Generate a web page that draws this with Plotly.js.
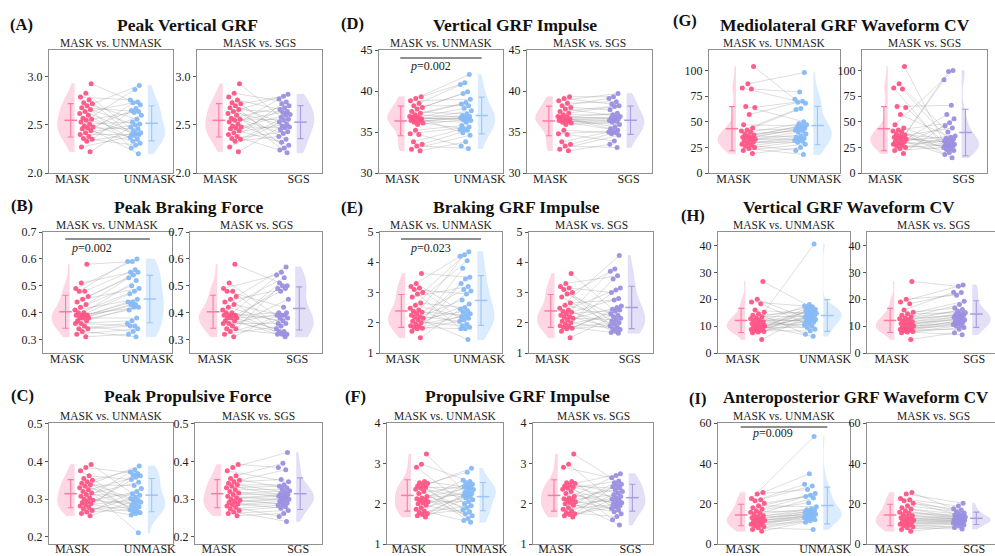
<!DOCTYPE html>
<html><head><meta charset="utf-8">
<script src="https://cdn.plot.ly/plotly-3.0.1.min.js"></script>
<style>html,body{margin:0;padding:0;background:#fff}#chart{width:995px;height:556px}</style>
</head><body><div id="chart"></div>
<script>
// ---------------- DATA ----------------
const letters = ['(A)','(B)','(C)','(D)','(E)','(F)','(G)','(H)','(I)'];
const titles = ['Peak Vertical GRF','Peak Braking Force','Peak Propulsive Force',
  'Vertical GRF Impulse','Braking GRF Impulse','Propulsive GRF Impulse',
  'Mediolateral GRF Waveform CV','Vertical GRF Waveform CV','Anteroposterior GRF Waveform CV'];
const subTitles = ['MASK vs. UNMASK','MASK vs. SGS'];
const groupNames = ['MASK','UNMASK','SGS'];
const yTickVals = [[2.0,2.5,3.0],[0.3,0.4,0.5,0.6,0.7],[0.2,0.3,0.4,0.5],[30,35,40,45],[1,2,3,4,5],[1,2,3,4],[0,25,50,75,100],[0,10,20,30,40],[0,20,40,60]];
const yTickText = [['2.0','2.5','3.0'],['0.3','0.4','0.5','0.6','0.7'],['0.2','0.3','0.4','0.5'],['30','35','40','45'],['1','2','3','4','5'],['1','2','3','4'],['0','25','50','75','100'],['0','10','20','30','40'],['0','20','40','60']];
const pValues = [null,'0.002',null,'0.002','0.023',null,null,null,'0.009'];

const maskA   = [2.93,2.83,2.79,2.76,2.73,2.72,2.70,2.68,2.66,2.64,2.62,2.60,2.57,2.56,2.55,2.53,2.51,2.49,2.48,2.47,2.46,2.44,2.42,2.40,2.38,2.36,2.35,2.33,2.27,2.22];
const unmaskA = [2.91,2.87,2.76,2.74,2.73,2.71,2.67,2.65,2.64,2.63,2.60,2.56,2.53,2.51,2.50,2.48,2.46,2.44,2.42,2.41,2.40,2.40,2.39,2.37,2.35,2.33,2.31,2.29,2.26,2.20];
const sgsA    = [2.82,2.80,2.77,2.74,2.72,2.70,2.68,2.66,2.64,2.63,2.61,2.60,2.58,2.56,2.55,2.53,2.51,2.49,2.48,2.47,2.45,2.43,2.41,2.38,2.35,2.32,2.29,2.26,2.24,2.21];

const maskB   = [0.58,0.51,0.49,0.48,0.48,0.46,0.45,0.44,0.43,0.42,0.41,0.40,0.40,0.39,0.39,0.39,0.39,0.38,0.38,0.38,0.37,0.37,0.36,0.36,0.35,0.34,0.34,0.33,0.32,0.31];
const unmaskB = [0.60,0.59,0.59,0.56,0.55,0.55,0.54,0.53,0.52,0.50,0.49,0.48,0.47,0.45,0.44,0.44,0.43,0.43,0.42,0.42,0.41,0.38,0.37,0.36,0.35,0.35,0.34,0.33,0.32,0.31];
const sgsB    = [0.57,0.55,0.54,0.53,0.51,0.50,0.50,0.49,0.49,0.48,0.45,0.42,0.40,0.40,0.39,0.39,0.39,0.38,0.38,0.37,0.36,0.36,0.35,0.34,0.33,0.33,0.32,0.32,0.32,0.31];

const maskC   = [0.392,0.384,0.375,0.362,0.355,0.350,0.346,0.342,0.338,0.334,0.330,0.325,0.320,0.316,0.312,0.308,0.304,0.300,0.297,0.294,0.291,0.288,0.285,0.282,0.278,0.274,0.270,0.266,0.262,0.256];
const unmaskC = [0.388,0.378,0.372,0.368,0.365,0.362,0.358,0.352,0.345,0.336,0.328,0.320,0.314,0.310,0.306,0.302,0.298,0.295,0.292,0.288,0.284,0.280,0.276,0.272,0.268,0.266,0.264,0.262,0.258,0.211];
const sgsC    = [0.424,0.395,0.384,0.378,0.352,0.346,0.338,0.334,0.330,0.326,0.322,0.318,0.314,0.312,0.310,0.308,0.305,0.302,0.300,0.297,0.294,0.290,0.287,0.284,0.280,0.276,0.270,0.262,0.254,0.241];

const maskD   = [39.3,39.1,38.8,38.5,38.2,38.0,37.8,37.5,37.3,37.1,36.9,36.8,36.7,36.6,36.5,36.4,36.3,36.2,36.1,35.9,36.8,36.6,35.2,34.8,34.7,33.8,33.5,33.3,32.9,32.7];
const unmaskD = [42.0,41.0,40.8,39.9,39.7,39.0,38.6,38.4,38.2,37.9,37.6,37.2,37.0,36.9,36.8,36.7,36.6,36.5,36.4,36.2,35.8,35.6,35.4,35.3,35.2,34.9,34.6,33.8,33.3,33.0];
const sgsD    = [39.7,39.3,39.1,38.7,38.4,38.2,38.1,37.7,37.3,37.1,36.9,36.8,36.7,36.6,36.5,36.4,36.3,36.2,35.9,35.6,35.4,35.2,35.1,35.0,34.9,34.8,34.6,33.9,33.5,33.1];

const maskE   = [3.63,3.30,3.20,3.15,3.10,3.00,2.95,2.85,2.65,2.58,2.48,2.42,2.38,2.35,2.30,2.25,2.20,2.18,2.15,2.10,2.05,2.00,1.95,1.90,1.88,1.85,1.82,1.80,1.72,1.50];
const unmaskE = [4.35,4.25,4.20,4.05,3.80,3.50,3.45,3.30,3.20,3.10,3.05,2.95,2.75,2.62,2.50,2.45,2.40,2.35,2.30,2.25,2.20,2.15,2.10,2.05,1.95,1.90,1.85,1.80,1.80,1.45];
const sgsE    = [4.22,3.78,3.70,3.55,3.45,3.15,3.08,3.00,2.80,2.75,2.55,2.50,2.45,2.42,2.38,2.30,2.25,2.20,2.15,2.10,2.05,2.00,1.95,1.90,1.85,1.80,1.78,1.72,1.68,1.65];

const maskF   = [3.23,2.98,2.90,2.55,2.52,2.50,2.46,2.44,2.41,2.38,2.36,2.30,2.25,2.18,2.14,2.12,2.10,2.08,2.05,2.02,2.00,1.96,1.90,1.86,1.82,1.78,1.75,1.73,1.70,1.67];
const unmaskF = [2.88,2.78,2.58,2.55,2.52,2.48,2.45,2.42,2.40,2.38,2.35,2.32,2.28,2.25,2.22,2.20,2.17,2.14,2.10,2.05,2.00,1.95,1.90,1.85,1.80,1.75,1.70,1.63,1.58,1.54];
const sgsF    = [2.74,2.70,2.64,2.56,2.52,2.48,2.45,2.42,2.38,2.34,2.30,2.26,2.22,2.18,2.14,2.11,2.08,2.05,2.02,2.00,1.98,1.95,1.92,1.88,1.84,1.80,1.75,1.68,1.60,1.47];

const maskG   = [104,87,83,82,65,64,57,47,44,42,41,40,38,37,36,35,35,34,33,32,31,30,29,28,27,26,25,24,22,19];
const unmaskG = [98,79,72,70,69,68,63,62,50,48,47,46,45,44,43,42,41,40,38,36,35,34,33,32,31,30,28,25,22,18];
const sgsG    = [100,99,91,66,57,53,49,46,44,40,36,35,34,33,32,31,30,29,28,27,27,26,26,25,24,23,22,20,18,15];

const maskH   = [26.6,20.0,19.0,18.3,16.0,15.2,14.6,14.0,13.5,13.0,12.7,12.3,12.0,11.6,11.3,11.0,10.6,10.3,10.0,9.8,9.5,9.2,9.0,8.7,8.5,8.3,8.0,7.8,7.5,5.0];
const unmaskH = [40.5,18.0,17.5,17.2,16.8,16.3,16.0,15.7,15.4,15.1,14.8,14.5,14.2,14.0,13.7,13.4,13.1,12.8,12.5,12.2,11.8,11.5,11.0,10.5,10.0,9.5,8.8,8.2,7.0,6.2];
const sgsH    = [25.3,24.8,22.6,22.5,21.5,19.2,18.0,16.7,16.2,15.6,15.0,14.6,14.3,14.0,13.6,13.3,13.0,12.7,12.4,12.0,11.6,11.3,11.0,10.6,10.3,10.0,9.5,8.8,7.5,6.8];

const maskI   = [25.5,24.8,22.6,22.0,21.5,20.2,19.0,18.0,17.3,16.5,15.8,15.2,14.6,14.0,13.5,13.0,12.6,12.2,11.8,11.4,11.0,10.6,10.2,9.8,9.4,9.0,8.5,8.0,7.2,6.3];
const unmaskI = [53.3,34.8,29.6,28.8,27.0,25.0,24.2,23.5,22.8,20.5,18.5,17.5,17.0,16.6,16.2,15.8,15.5,15.2,14.8,14.5,14.2,13.9,13.6,13.2,12.8,12.4,12.0,11.5,10.8,7.2];
const sgsI    = [20.2,18.8,17.5,16.8,16.0,15.4,14.8,14.4,14.0,13.7,13.4,13.1,12.8,12.6,12.4,12.2,12.0,11.8,11.6,11.4,11.2,11.0,10.7,10.4,10.1,9.8,9.4,8.9,8.2,7.4];

// subject pairing: MASK subject i is paired with comparison value index pair[i]
const pairP1 = [5,17,2,24,11,0,28,8,14,21,3,26,19,9,1,23,12,29,6,16,25,4,13,20,10,27,7,18,22,15];
const pairP2 = [2,0,5,1,8,3,4,11,6,14,7,9,16,10,12,19,13,15,22,17,18,25,20,21,28,23,24,29,26,27];
const pairP3 = [12,3,20,7,27,1,15,24,9,18,0,29,5,22,13,8,26,2,19,11,25,6,16,28,4,21,10,23,14,17];
const pairP4 = [1,4,0,3,2,7,10,5,6,9,13,8,11,15,12,18,14,16,21,17,20,19,24,22,27,23,25,29,26,28];
const pairP5 = [20,9,27,14,3,22,11,0,17,25,6,29,13,2,19,8,24,16,4,28,10,21,1,15,26,7,18,12,23,5];

const maskData = [maskA,maskB,maskC,maskD,maskE,maskF,maskG,maskH,maskI];
const unmaskData = [unmaskA,unmaskB,unmaskC,unmaskD,unmaskE,unmaskF,unmaskG,unmaskH,unmaskI];
const sgsData = [sgsA,sgsB,sgsC,sgsD,sgsE,sgsF,sgsG,sgsH,sgsI];
const pairUnmask = [pairP1,pairP4,pairP3,pairP2,pairP1,pairP3,pairP2,pairP1,pairP4];
const pairSgs    = [pairP3,pairP1,pairP2,pairP4,pairP3,pairP1,pairP5,pairP4,pairP2];

// ---------------- LAYOUT GEOMETRY (pixels) ----------------
const W = 995, H = 556;
const yRanges = [[2.0,3.28],[0.25,0.7],[0.181,0.502],[30,45],[1,5],[1,4],[0,120],[0,45],[0,60]];
const frameX = [[49,173,197,322],[43,172,190,322],[49,173,195,322],
                [379,503,527,652],[380,502,529,653],[387,503,533,653],
                [709,840,862,987],[718,850,867,999],[718,850,867,999]];
const frameY = [[50,173],[232,353],[423,544]];
const letterPos = [[21,25],[22,206],[22,395],[352,24],[352,207],[355,396],[685,20],[693,215],[697,398]];
const titlePos  = [[187,25],[189,207],[188,396],[515,25],[516,207],[517,396],[845,25],[849,207],[721,397]];
const titleSize = [17.5,17.5,17.5,17.5,17.5,17.5,17.5,17.5,17];
const pLineY = {1:239, 3:58, 4:239, 8:427};
const pTextY = {1:248, 3:66, 4:248, 8:433};
const pTextX = {1:0.6, 3:0.72, 4:0.72, 8:0.72};

const XR = [-0.6, 2.6];
const X_MASK_VIO = 0.06, X_MASK_ERR = -0.04, X_MASK_PTS = 0.36;
const X_OTH_VIO = 1.95, X_OTH_ERR = 2.05, X_OTH_PTS = 1.64;

const colMask = {pt:'#ff5486', fill:'rgba(255,165,192,0.45)', err:'#ff7aa0'};
const colUn   = {pt:'#85b9f7', fill:'rgba(180,215,255,0.47)', err:'#9cc6f5'};
const colSgs  = {pt:'#9a8fe0', fill:'rgba(195,188,238,0.47)', err:'#a69de2'};
const FONT = 'Liberation Serif, Times New Roman, serif';

function jitter(i, seed){ const v = ((i + seed) * 0.6180339887) % 1; return v - 0.5; }
function mean(a){ return a.reduce((s,v)=>s+v,0)/a.length; }
function sd(a){ const m = mean(a); return Math.sqrt(a.reduce((s,v)=>s+(v-m)*(v-m),0)/(a.length-1)); }

const traces = [];
const layout = {
  width: W, height: H, margin:{l:0,r:0,t:0,b:0},
  paper_bgcolor:'#fff', plot_bgcolor:'#fff', showlegend:false,
  violinmode:'overlay', font:{family:FONT, color:'#111'},
  annotations:[], shapes:[]
};

for (let p = 0; p < 9; p++) {
  const row = p % 3;
  const [yt, yb] = frameY[row];
  for (let s = 0; s < 2; s++) {
    const k = p*2 + s + 1;
    const xn = k === 1 ? 'x' : 'x'+k, yn = k === 1 ? 'y' : 'y'+k;
    const L = frameX[p][s*2], R = frameX[p][s*2+1];
    const Rc = Math.min(R, W);
    const xr1 = XR[0] + (XR[1]-XR[0])*(Rc-L)/(R-L);
    const other = s === 0 ? unmaskData[p] : sgsData[p];
    const pair = s === 0 ? pairUnmask[p] : pairSgs[p];
    const col = s === 0 ? colUn : colSgs;
    const mask = maskData[p];

    layout['xaxis'+(k===1?'':k)] = {
      domain:[L/W, Rc/W], range:[XR[0], xr1], type:'linear', anchor:yn,
      tickvals:[0,2], ticktext:['MASK', groupNames[s+1]], ticks:'',
      showline:true, mirror:true, linecolor:'#8f8f8f', linewidth:1,
      showgrid:false, zeroline:false, fixedrange:true, ticklabelstandoff: row === 2 ? -6 : -5,
      tickfont:{family:FONT, size:12, color:'#1a1a1a'}
    };
    layout['yaxis'+(k===1?'':k)] = {
      domain:[1-yb/H, 1-yt/H], range:yRanges[p], anchor:xn,
      tickvals:yTickVals[p], ticktext:yTickText[p], ticks:'outside', ticklen:3, tickcolor:'#555',
      showline:true, mirror:(R <= W), linecolor:'#8f8f8f', linewidth:1,
      showgrid:false, zeroline:false, fixedrange:true,
      tickfont:{family:FONT, size:12, color:'#1a1a1a'}
    };

    // half violins
    traces.push({type:'violin', x0:X_MASK_VIO, y:mask, side:'negative', width:0.88,
      xaxis:xn, yaxis:yn, spanmode:'hard', scalemode:'width', points:false,
      fillcolor:colMask.fill, line:{color:'rgba(255,165,192,0.35)', width:0.5},
      box:{visible:false}, meanline:{visible:false}, hoverinfo:'skip'});
    traces.push({type:'violin', x0:X_OTH_VIO, y:other, side:'positive', width:0.88,
      xaxis:xn, yaxis:yn, spanmode:'hard', scalemode:'width', points:false,
      fillcolor:col.fill, line:{color:col.fill, width:0.5},
      box:{visible:false}, meanline:{visible:false}, hoverinfo:'skip'});

    // paired lines
    const lx = [], ly = [];
    mask.forEach((v,i) => {
      const j = pair[i];
      lx.push(X_MASK_PTS + 0.36*jitter(i,3), X_OTH_PTS + 0.30*jitter(j,11), null);
      ly.push(v, other[j], null);
    });
    traces.push({type:'scatter', mode:'lines', x:lx, y:ly, xaxis:xn, yaxis:yn,
      line:{color:'rgba(140,140,140,0.42)', width:0.7}, hoverinfo:'skip'});

    // points
    traces.push({type:'scatter', mode:'markers', x:mask.map((v,i)=>X_MASK_PTS + 0.36*jitter(i,3)), y:mask,
      xaxis:xn, yaxis:yn, marker:{color:colMask.pt, size:5, opacity:0.95}, hoverinfo:'skip'});
    traces.push({type:'scatter', mode:'markers', x:other.map((v,j)=>X_OTH_PTS + 0.30*jitter(j,11)), y:other,
      xaxis:xn, yaxis:yn, marker:{color:col.pt, size:5, opacity:0.95}, hoverinfo:'skip'});

    // mean ± SD
    traces.push({type:'scatter', mode:'markers', x:[X_MASK_ERR], y:[mean(mask)], xaxis:xn, yaxis:yn,
      marker:{symbol:'line-ew', size:9, line:{color:colMask.err, width:1.5}},
      error_y:{type:'data', array:[sd(mask)], color:colMask.err, thickness:1.1, width:3}, hoverinfo:'skip'});
    traces.push({type:'scatter', mode:'markers', x:[X_OTH_ERR], y:[mean(other)], xaxis:xn, yaxis:yn,
      marker:{symbol:'line-ew', size:9, line:{color:col.err, width:1.5}},
      error_y:{type:'data', array:[sd(other)], color:col.err, thickness:1.1, width:3}, hoverinfo:'skip'});

    // subplot title (sits just above the frame)
    layout.annotations.push({xref:'paper', yref:'paper', x:((L+R)/2)/W, y:1-(yt+1)/H,
      xanchor:'center', yanchor:'bottom', showarrow:false, text:subTitles[s],
      font:{family:FONT, size:11.5, color:'#222'}});

    // significance bar
    if (s === 0 && pValues[p]) {
      layout.shapes.push({type:'line', xref:xn, yref:'paper', x0:-0.05, x1:2.05,
        y0:1-pLineY[p]/H, y1:1-pLineY[p]/H, line:{color:'#6a6a6a', width:1.5}});
      layout.annotations.push({xref:xn, yref:'paper', x:pTextX[p], y:1-pTextY[p]/H,
        xanchor:'center', yanchor:'middle', showarrow:false, text:'<i>p</i>=' + pValues[p],
        font:{family:FONT, size:12, color:'#222'}});
    }
  }
  // panel letter and title
  layout.annotations.push({xref:'paper', yref:'paper', x:letterPos[p][0]/W, y:1-letterPos[p][1]/H,
    xanchor:'center', yanchor:'middle', showarrow:false, text:'<b>'+letters[p]+'</b>',
    font:{family:FONT, size:16.5, color:'#111'}});
  layout.annotations.push({xref:'paper', yref:'paper', x:titlePos[p][0]/W, y:1-titlePos[p][1]/H,
    xanchor: p === 8 ? 'left' : 'center', yanchor:'middle', showarrow:false, text:'<b>'+titles[p]+'</b>',
    font:{family:FONT, size:titleSize[p], color:'#111'}});
}

Plotly.newPlot('chart', traces, layout, {staticPlot:true, displayModeBar:false});
</script>
</body></html>
